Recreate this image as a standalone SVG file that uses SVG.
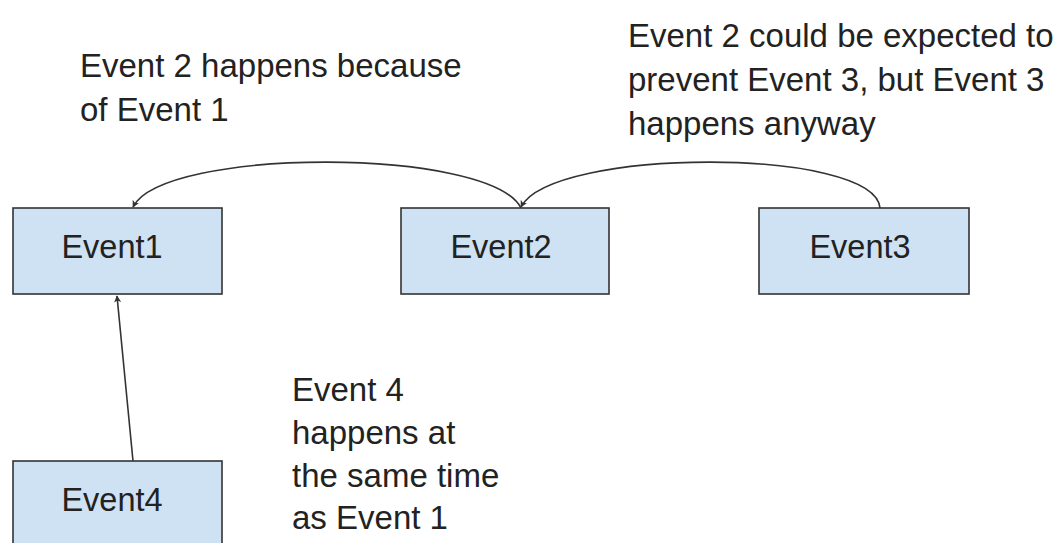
<svg xmlns="http://www.w3.org/2000/svg" width="1064" height="543" viewBox="0 0 1064 543">
<style>
.box{fill:#cfe2f3;stroke:#333;stroke-width:1.6}
.lbl{font-family:"Liberation Sans",Arial,sans-serif;font-size:32.5px;fill:#222;text-anchor:middle}
.note{font-family:"Liberation Sans",Arial,sans-serif;font-size:33px;fill:#222}
.conn{fill:none;stroke:#333;stroke-width:1.6}
</style>
<defs>
<marker id="ah" viewBox="0 0 10 10" refX="9" refY="5" markerWidth="7" markerHeight="7" markerUnits="userSpaceOnUse" orient="auto">
<path d="M0,0 L10,5 L0,10 L2.5,5 Z" fill="#333"/>
</marker>
</defs>
<rect width="1064" height="543" fill="#fff"/>
<g id="connectors">
<path class="conn" d="M521,208 C490,147 163,147 133,207" marker-end="url(#ah)"/>
<path class="conn" d="M880,208 C875,147 552,147 521,207" marker-end="url(#ah)"/>
<path class="conn" d="M133,461 L117,296" marker-end="url(#ah)"/>
</g>
<g id="event1">
<rect class="box" x="13" y="208" width="209" height="86"/>
<text class="lbl" x="112" y="258">Event1</text>
</g>
<g id="event2">
<rect class="box" x="401" y="208" width="208" height="86"/>
<text class="lbl" x="501" y="258">Event2</text>
</g>
<g id="event3">
<rect class="box" x="759" y="208" width="210" height="86"/>
<text class="lbl" x="860" y="258">Event3</text>
</g>
<g id="event4">
<rect class="box" x="13" y="461" width="209" height="86"/>
<text class="lbl" x="112" y="511">Event4</text>
</g>
<g id="notes">
<text class="note" x="80" y="77">Event 2 happens because</text>
<text class="note" x="80" y="121">of Event 1</text>
<text class="note" x="628" y="47">Event 2 could be expected to</text>
<text class="note" x="628" y="91">prevent Event 3, but Event 3</text>
<text class="note" x="628" y="135">happens anyway</text>
<text class="note" x="292" y="401">Event 4</text>
<text class="note" x="292" y="444">happens at</text>
<text class="note" x="292" y="487">the same time</text>
<text class="note" x="292" y="529">as Event 1</text>
</g>
</svg>
